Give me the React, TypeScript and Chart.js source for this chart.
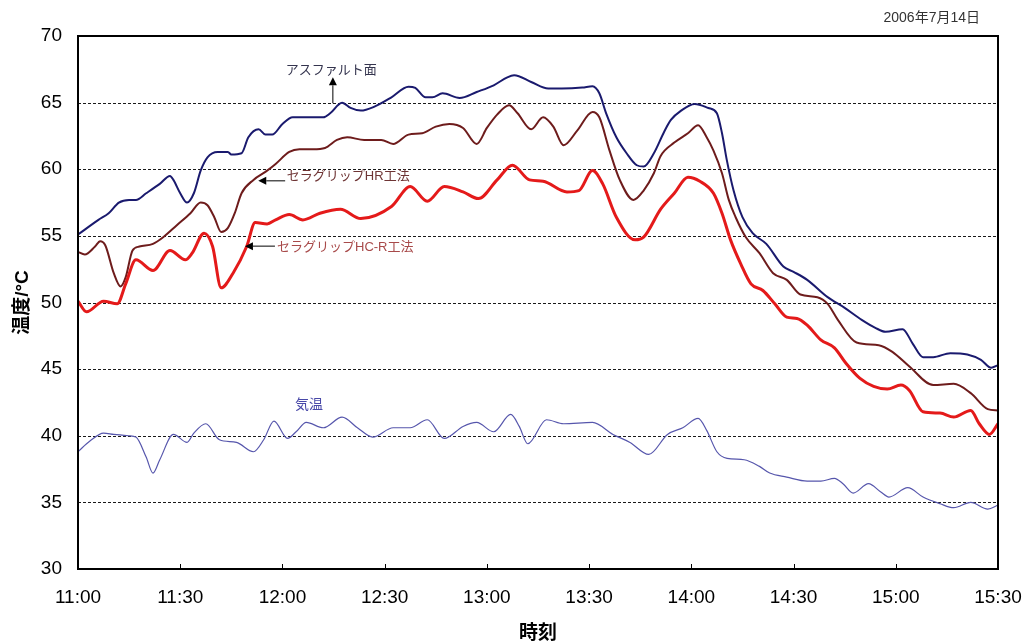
import { useEffect, useRef } from 'react';
import { Chart, registerables } from 'chart.js';

Chart.register(...registerables);

// ---- axis / labels ----
const timeTickLabels = ['11:00', '11:30', '12:00', '12:30', '13:00', '13:30', '14:00', '14:30', '15:00', '15:30'];
const timeStepMinutes = 30;
const yMin = 30;
const yMax = 70;
const yStep = 5;
const xTitle = '時刻';
const yTitle = '温度/°C';
const dateText = '2006年7月14日';

// ---- series (minutes after 11:00, °C) ----
const asphaltTimes = [0, 6, 9, 12, 15, 17, 20, 24, 27, 28, 30, 32, 34, 36, 38, 41, 44, 45, 48, 50, 53, 55, 57, 60, 63, 68, 72, 74, 77.5, 80, 83, 87, 92, 97, 99, 102, 104, 107, 112, 117, 122, 126, 128, 133, 138, 142, 148, 151, 153, 155, 158, 161, 164, 166, 169, 172, 174, 177, 181, 185, 187.5, 189, 190.4, 192.4, 195, 198, 202, 207, 210, 214, 220, 225, 230, 234, 237, 242, 245, 248, 251, 256, 261, 265, 268, 270];
const asphaltTemps = [55.1, 56.2, 56.7, 57.5, 57.7, 57.7, 58.2, 58.9, 59.5, 59.2, 58.2, 57.5, 58.2, 59.9, 60.9, 61.3, 61.3, 61.1, 61.2, 62.4, 63.0, 62.6, 62.6, 63.4, 63.9, 63.9, 63.9, 64.2, 65.0, 64.6, 64.4, 64.7, 65.4, 66.2, 66.1, 65.4, 65.4, 65.7, 65.35, 65.8, 66.3, 66.9, 67.05, 66.55, 66.06, 66.06, 66.13, 66.23, 65.7, 64.2, 62.4, 61.2, 60.3, 60.2, 61.2, 62.8, 63.7, 64.4, 64.9, 64.6, 64.2, 62.7, 60.7, 58.4, 56.4, 55.2, 54.4, 52.7, 52.3, 51.7, 50.4, 49.6, 48.7, 48.1, 47.8, 48.0, 46.9, 45.9, 45.9, 46.2, 46.1, 45.7, 45.1, 45.3];

const hrTimes = [0, 2, 5, 6.5, 8, 10.5, 12.5, 14, 16, 18, 22, 25, 29, 33, 36, 38, 40, 42, 44, 46, 48, 51.5, 55, 58, 62, 65, 69, 72.5, 76, 79, 84, 89, 92.5, 97, 101, 105, 109, 113, 117, 120, 123, 126.5, 129, 133, 136.5, 139.5, 142.5, 146.5, 151, 153, 156, 159, 163, 166, 169, 171, 175, 179, 182, 184.5, 186.5, 189, 191, 193, 196, 200, 204, 208, 212, 217, 220, 223, 228.5, 235, 239, 244, 251, 257, 262, 267, 270];
const hrTemps = [53.8, 53.6, 54.2, 54.6, 54.3, 52.2, 51.2, 51.9, 53.9, 54.2, 54.4, 54.9, 55.8, 56.7, 57.5, 57.3, 56.4, 55.3, 55.6, 56.7, 58.2, 59.2, 59.8, 60.4, 61.3, 61.5, 61.5, 61.6, 62.2, 62.4, 62.2, 62.2, 61.9, 62.6, 62.7, 63.2, 63.4, 63.1, 61.9, 63.1, 64.1, 64.8, 64.2, 63.0, 63.9, 63.2, 61.8, 62.9, 64.3, 63.9, 61.4, 59.2, 57.7, 58.4, 59.7, 61.0, 62.0, 62.7, 63.3, 62.4, 61.4, 59.7, 57.7, 56.4, 54.9, 53.7, 52.2, 51.7, 50.6, 50.4, 49.9, 48.7, 47.0, 46.8, 46.3, 45.2, 43.8, 43.9, 43.2, 42.0, 41.9];

const hcrTimes = [0, 2.5, 7.5, 11.5, 14, 17, 22, 27, 31.5, 33.5, 37, 39.5, 42, 45.5, 49.5, 52, 55.5, 58, 62, 66, 71, 77, 83, 92, 97.5, 102.5, 107.5, 113, 117.5, 123, 127.5, 132.5, 136.5, 143.5, 147, 151, 154, 158, 163.5, 166, 171, 175, 179, 182.5, 186.5, 189, 191.5, 194.5, 197.5, 201, 204.5, 208, 211, 214, 218, 222, 225.5, 229.5, 233.5, 237.5, 241.5, 244, 248, 253, 257, 262, 264.5, 267.5, 270];
const hcrTemps = [50.1, 49.3, 50.1, 49.9, 51.4, 53.2, 52.4, 53.9, 53.2, 53.7, 55.2, 54.2, 51.1, 52.2, 54.2, 56.0, 55.9, 56.2, 56.6, 56.2, 56.7, 57.0, 56.3, 57.2, 58.7, 57.6, 58.7, 58.3, 57.8, 59.2, 60.3, 59.2, 59.1, 58.3, 58.4, 59.9, 58.9, 56.4, 54.7, 54.9, 57.0, 58.2, 59.4, 59.1, 58.2, 56.7, 54.7, 52.9, 51.4, 50.9, 49.9, 48.9, 48.8, 48.3, 47.2, 46.6, 45.4, 44.3, 43.7, 43.5, 43.8, 43.4, 41.8, 41.7, 41.4, 41.9, 40.9, 40.1, 40.9];

const airTimes = [0, 3.5, 7.5, 10.5, 15, 17, 20, 22, 24, 28, 32, 34, 37.5, 41.5, 46.5, 51.5, 54.5, 57.5, 61.5, 64, 67, 72, 77.5, 82, 86.5, 92.5, 97.5, 102.5, 107.5, 113, 117, 122, 127, 129.5, 132, 137.5, 142.5, 151, 157, 162, 167.5, 173, 177.5, 182, 184.5, 187.5, 190.5, 195.5, 200, 203, 208, 214, 218, 222, 224.5, 227.5, 232, 235.5, 238, 243.5, 248, 253, 257, 262, 267, 270];
const airTemps = [38.8, 39.6, 40.2, 40.1, 40.0, 39.9, 38.4, 37.2, 38.2, 40.1, 39.5, 40.2, 40.9, 39.7, 39.5, 38.8, 39.7, 41.1, 39.8, 40.3, 41.0, 40.6, 41.4, 40.6, 39.9, 40.6, 40.6, 41.2, 39.8, 40.7, 41.0, 40.3, 41.6, 40.7, 39.4, 41.2, 40.9, 41.0, 40.1, 39.5, 38.6, 40.1, 40.6, 41.3, 40.4, 38.8, 38.3, 38.2, 37.7, 37.2, 36.9, 36.6, 36.6, 36.8, 36.4, 35.7, 36.4, 35.8, 35.4, 36.1, 35.4, 34.9, 34.6, 35.0, 34.5, 34.8];

const seriesNames = ['アスファルト面', 'セラグリップHR工法', 'セラグリップHC-R工法', '気温'];

// ---- annotation anchors (data coordinates) ----
type Note = {
  text: string;
  t: number;
  v: number;
  align: CanvasTextAlign;
  color: string;
  size: number;
  arrow?: { fromT: number; fromV: number; toT: number; toV: number };
};
const notes: Note[] = [
  { text: seriesNames[0], t: 74.3, v: 67.43, align: 'center', color: '#34344e', size: 13, arrow: { fromT: 74.8, fromV: 64.95, toT: 74.8, toV: 66.9 } },
  { text: seriesNames[1], t: 61.3, v: 59.45, align: 'left', color: '#6e3434', size: 13, arrow: { fromT: 60.8, fromV: 59.13, toT: 52.9, toV: 59.13 } },
  { text: seriesNames[2], t: 58.4, v: 54.16, align: 'left', color: '#a84a4a', size: 13, arrow: { fromT: 57.8, fromV: 54.23, toT: 49.0, toV: 54.23 } },
  { text: seriesNames[3], t: 63.7, v: 42.32, align: 'left', color: '#4848a8', size: 14 },
];

const FONT = '"Liberation Sans", "Noto Sans CJK JP", sans-serif';

const toPoints = (ts: number[], vs: number[]) => ts.map((t, i) => ({ x: t, y: vs[i] }));

const decorPlugin = {
  id: 'decor',
  beforeDatasetsDraw(chart: any) {
    const { ctx, chartArea: a, scales } = chart;
    const y = scales.y;
    ctx.save();
    ctx.strokeStyle = '#1a1a1a';
    ctx.lineWidth = 1;
    ctx.setLineDash([3, 2]);
    for (let v = yMin + yStep; v < yMax; v += yStep) {
      const py = Math.round(y.getPixelForValue(v)) + 0.5;
      ctx.beginPath();
      ctx.moveTo(a.left, py);
      ctx.lineTo(a.right, py);
      ctx.stroke();
    }
    ctx.restore();
  },
  afterDatasetsDraw(chart: any) {
    const { ctx, chartArea: a, scales } = chart;
    const x = scales.x;
    const y = scales.y;
    ctx.save();
    // frame
    ctx.strokeStyle = '#000';
    ctx.lineWidth = 2;
    ctx.strokeRect(a.left, a.top, a.right - a.left, a.bottom - a.top);
    // inward tick marks
    ctx.lineWidth = 1;
    for (let i = 0; i < timeTickLabels.length; i++) {
      const px = Math.round(x.getPixelForValue(i * timeStepMinutes)) + 0.5;
      ctx.beginPath();
      ctx.moveTo(px, a.bottom);
      ctx.lineTo(px, a.bottom - 5);
      ctx.stroke();
    }
    // annotations
    for (const n of notes) {
      if (n.arrow) {
        const x1 = x.getPixelForValue(n.arrow.fromT);
        const y1 = y.getPixelForValue(n.arrow.fromV);
        const x2 = x.getPixelForValue(n.arrow.toT);
        const y2 = y.getPixelForValue(n.arrow.toV);
        const ang = Math.atan2(y2 - y1, x2 - x1);
        const head = 8;
        const hw = 4;
        const bx = x2 - head * Math.cos(ang);
        const by = y2 - head * Math.sin(ang);
        ctx.strokeStyle = '#000';
        ctx.fillStyle = '#000';
        ctx.lineWidth = 1;
        ctx.beginPath();
        ctx.moveTo(x1, y1);
        ctx.lineTo(bx, by);
        ctx.stroke();
        ctx.beginPath();
        ctx.moveTo(x2, y2);
        ctx.lineTo(bx + hw * Math.sin(ang), by - hw * Math.cos(ang));
        ctx.lineTo(bx - hw * Math.sin(ang), by + hw * Math.cos(ang));
        ctx.closePath();
        ctx.fill();
      }
      ctx.font = `${n.size}px ${FONT}`;
      ctx.fillStyle = n.color;
      ctx.textAlign = n.align;
      ctx.textBaseline = 'middle';
      ctx.fillText(n.text, x.getPixelForValue(n.t), y.getPixelForValue(n.v));
    }
    // date
    ctx.font = `14px ${FONT}`;
    ctx.fillStyle = '#333';
    ctx.textAlign = 'right';
    ctx.textBaseline = 'middle';
    ctx.fillText(dateText, a.right - 18, 18);
    ctx.restore();
  },
};

export default function App() {
  const canvasRef = useRef<HTMLCanvasElement | null>(null);

  useEffect(() => {
    document.body.style.margin = '0';
    document.body.style.overflow = 'hidden';
    const canvas = canvasRef.current;
    if (!canvas) return;
    const chart = new Chart(canvas, {
      type: 'line',
      data: {
        datasets: [
          {
            label: seriesNames[3],
            data: toPoints(airTimes, airTemps),
            borderColor: '#5656ac',
            borderWidth: 1.2,
            pointRadius: 0,
            cubicInterpolationMode: 'monotone',
          },
          {
            label: seriesNames[2],
            data: toPoints(hcrTimes, hcrTemps),
            borderColor: '#e41a1a',
            borderWidth: 3,
            pointRadius: 0,
            cubicInterpolationMode: 'monotone',
          },
          {
            label: seriesNames[1],
            data: toPoints(hrTimes, hrTemps),
            borderColor: '#6e1c1c',
            borderWidth: 2,
            pointRadius: 0,
            cubicInterpolationMode: 'monotone',
          },
          {
            label: seriesNames[0],
            data: toPoints(asphaltTimes, asphaltTemps),
            borderColor: '#1a1a6e',
            borderWidth: 2,
            pointRadius: 0,
            cubicInterpolationMode: 'monotone',
          },
        ],
      },
      options: {
        animation: false,
        responsive: false,
        maintainAspectRatio: false,
        events: [],
        layout: { padding: { left: 0, top: 36, right: 28, bottom: 0 } },
        plugins: {
          legend: { display: false },
          tooltip: { enabled: false },
        },
        scales: {
          x: {
            type: 'linear',
            min: 0,
            max: (timeTickLabels.length - 1) * timeStepMinutes,
            afterFit: (s: any) => {
              s.height = 72;
              s.paddingLeft = 0;
              s.paddingRight = 0;
            },
            grid: { display: false, drawTicks: false },
            border: { display: false },
            ticks: {
              stepSize: timeStepMinutes,
              padding: 17,
              color: '#000',
              font: { family: FONT, size: 19 },
              maxRotation: 0,
              autoSkip: false,
              callback: (v: any) => timeTickLabels[Math.round(Number(v) / timeStepMinutes)] ?? '',
            },
            title: {
              display: true,
              text: xTitle,
              color: '#000',
              padding: { top: 0, bottom: -2 },
              font: { family: FONT, size: 19, weight: 'bold', lineHeight: 1 },
            },
          },
          y: {
            min: yMin,
            max: yMax,
            afterFit: (s: any) => {
              s.width = 78;
              s.paddingTop = 0;
              s.paddingBottom = 0;
            },
            grid: { display: false, drawTicks: false },
            border: { display: false },
            ticks: {
              stepSize: yStep,
              padding: 16,
              color: '#000',
              font: { family: FONT, size: 19 },
            },
            title: {
              display: true,
              text: yTitle,
              color: '#000',
              padding: { top: 13, bottom: 0 },
              font: { family: FONT, size: 19, weight: 'bold', lineHeight: 1 },
            },
          },
        },
      },
      plugins: [decorPlugin],
    } as any);
    return () => chart.destroy();
  }, []);

  return (
    <div style={{ width: 1026, height: 641, background: '#fff' }}>
      <canvas ref={canvasRef} width={1026} height={641} style={{ display: 'block' }} />
    </div>
  );
}
